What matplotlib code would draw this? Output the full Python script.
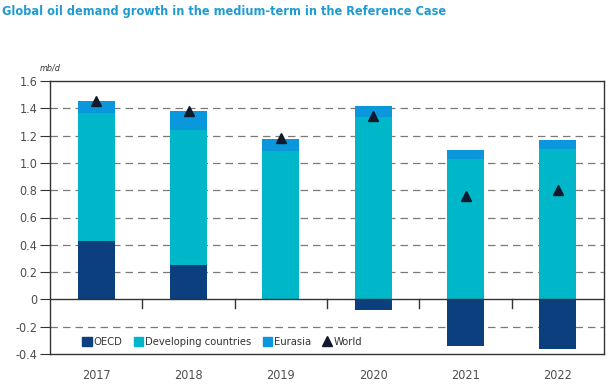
import matplotlib
matplotlib.use("Agg")
import matplotlib.pyplot as plt
from matplotlib.lines import Line2D
from matplotlib.patches import Patch
from matplotlib.font_manager import FontProperties
import numpy as np

years = ["2017", "2018", "2019", "2020", "2021", "2022"]
oecd = [0.43, 0.255, 0.0, -0.08, -0.34, -0.36]
developing = [0.935, 0.985, 1.09, 1.335, 1.03, 1.10]
eurasia = [0.085, 0.14, 0.085, 0.085, 0.065, 0.07]
world = [1.45, 1.38, 1.18, 1.34, 0.755, 0.805]

c_oecd = "#0b3f7e"
c_dev = "#00b6c9"
c_eur = "#0a97dc"
c_world = "#111a2c"
txt = "#4d4d4d"

plt.rcParams['font.family'] = ['DejaVu Sans']
body = FontProperties(family='DejaVu Sans', stretch='condensed', size=8.0)

fig = plt.figure(figsize=(6.10, 3.89), dpi=100)
ax = fig.add_axes([50/610, 1-354/389, 554/610, (354-81)/389])

x = np.arange(len(years))
w = 0.4
pos_base = np.array([max(v, 0) for v in oecd])
ax.bar(x, oecd, width=w, color=c_oecd, zorder=3)
ax.bar(x, developing, width=w, bottom=pos_base, color=c_dev, zorder=3)
ax.bar(x, eurasia, width=w, bottom=pos_base + np.array(developing), color=c_eur, zorder=3)
ax.plot(x, world, linestyle='none', marker='^', markersize=7, color=c_world, zorder=4)

ax.set_xlim(-0.5, 5.5)
ax.set_ylim(-0.4, 1.6)
yt = [-0.4, -0.2, 0, 0.2, 0.4, 0.6, 0.8, 1.0, 1.2, 1.4, 1.6]
ax.set_yticks(yt)
ax.set_yticklabels(["0" if v == 0 else f"{v:.1f}" for v in yt], color=txt,
                   fontproperties=FontProperties(family='DejaVu Sans', stretch='condensed', size=9))
for v in yt:
    if v not in (0, -0.4, 1.6):
        ax.axhline(v, color="#7a7a7a", linestyle=(0, (6, 4)), linewidth=0.9, zorder=1)
ax.axhline(0, color="#333333", linewidth=1.0, zorder=5)
for b in np.arange(0.5, 5.5, 1.0):
    ax.plot([b, b], [0, -0.06], color="#333333", linewidth=1.0, zorder=5, clip_on=False)

ax.set_xticks(x)
ax.set_xticklabels(years, color=txt,
                   fontproperties=FontProperties(family='DejaVu Sans', stretch='condensed', size=9))
ax.tick_params(axis='x', length=0, pad=11)
ax.tick_params(axis='y', length=7, width=0.8, color="#333333", pad=2)
for s in ax.spines.values():
    s.set_color("#333333")
    s.set_linewidth(1.0)

handles = [Patch(color=c_oecd), Patch(color=c_dev), Patch(color=c_eur),
           Line2D([], [], linestyle='none', marker='^', color=c_world, markersize=7)]
labels = ["OECD", "Developing countries", "Eurasia", "World"]
leg = ax.legend(handles, labels, loc='lower left', bbox_to_anchor=(0.05, 0.008), ncol=4,
                frameon=False, prop=body,
                handlelength=0.85, handleheight=0.85,
                handletextpad=0.15, columnspacing=1.05, borderaxespad=0)
for t in leg.get_texts():
    t.set_color("#333333")

fig.text(2/610, 1-11/389, "Global oil demand growth in the medium-term in the Reference Case",
         color="#1f9bd1", va='center', ha='left',
         fontproperties=FontProperties(family='DejaVu Sans', stretch='condensed', weight='bold', size=9.1))
fig.text(40/610, 1-68/389, "mb/d", color="#333333", va='center',
         fontproperties=FontProperties(family='DejaVu Sans', stretch='condensed', style='oblique', size=6.5))

fig.savefig("out.png", dpi=100)
